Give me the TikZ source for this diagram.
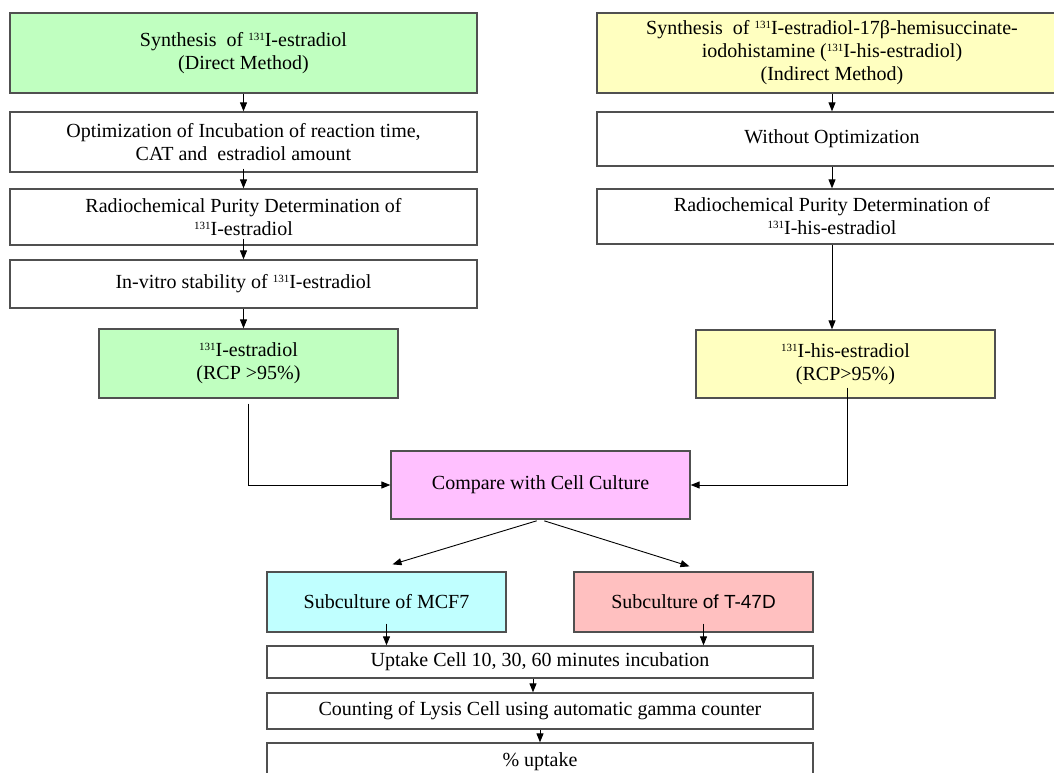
\documentclass[tikz,border=0pt]{standalone}
\usepackage{fontspec}
\setmainfont{Liberation Serif}
\newfontfamily\arialfont{Liberation Sans}
\usepackage{tikz}
\usetikzlibrary{arrows.meta, calc}

\definecolor{boxline}{HTML}{505050}
\definecolor{directgreen}{HTML}{C0FFC0}
\definecolor{indirectyellow}{HTML}{FFFFC0}
\definecolor{comparepink}{HTML}{FFC0FF}
\definecolor{mcfcyan}{HTML}{C0FFFF}
\definecolor{tsalmon}{HTML}{FFC0C0}

\newcommand{\nuc}{\raisebox{6pt}{\fontsize{11}{11}\selectfont 131}}

\begin{document}
\begin{tikzpicture}[
        x=1pt, y=-1pt,
        box/.style={draw=boxline, fill=white, line width=1.3pt, inner sep=0pt,
            align=center, font=\fontsize{20}{23}\selectfont},
        arr/.style={-{Triangle[length=9pt,width=7pt]}, line width=0.9pt}
    ]
        \useasboundingbox (0,0) rectangle (1054,773);
        \clip (0,0) rectangle (1054,773);

        % Direct method (left column)
        \node[box, fill=directgreen, minimum width=467pt, minimum height=80pt] (g1) at (243.5,53)
            {Synthesis\ \ of \nuc I-estradiol\\(Direct Method)};
        \node[box, minimum width=467pt, minimum height=60pt] (o1) at (243.5,142)
            {Optimization of Incubation of reaction time,\\CAT and\ \ estradiol amount};
        \node[box, minimum width=467pt, minimum height=56pt] (r1) at (243.5,217)
            {Radiochemical Purity Determination of\\\nuc I-estradiol};
        \node[box, minimum width=467pt, minimum height=48pt] (s1) at (243.5,284)
            {In-vitro stability of \nuc I-estradiol};
        \node[box, fill=directgreen, minimum width=299pt, minimum height=69pt] (gr) at (248.5,363.5)
            {\nuc I-estradiol\\(RCP >95\%)};

        % Indirect method (right column)
        \node[box, fill=indirectyellow, minimum width=470pt, minimum height=80pt] (y1) at (832,53)
            {Synthesis\ \ of \nuc I-estradiol-17β-hemisuccinate-\\iodohistamine (\nuc I-his-estradiol)\\(Indirect Method)};
        \node[box, minimum width=470pt, minimum height=54pt] (w1) at (832,139)
            {Without Optimization};
        \node[box, minimum width=470pt, minimum height=55pt] (r2) at (832,216.5)
            {Radiochemical Purity Determination of\\\nuc I-his-estradiol};
        \node[box, fill=indirectyellow, minimum width=299pt, minimum height=68pt] (yl) at (845.5,364)
            {\nuc I-his-estradiol\\(RCP>95\%)};

        % Cell culture part
        \node[box, fill=comparepink, minimum width=299pt, minimum height=68pt] (cmp) at (540.5,485)
            {Compare with Cell Culture};
        \node[box, fill=mcfcyan, minimum width=239pt, minimum height=60pt] (cy) at (386.5,602)
            {Subculture of MCF7};
        \node[box, fill=tsalmon, minimum width=239pt, minimum height=60pt] (pk) at (693.5,602)
            {Subculture {\arialfont\fontsize{19}{22}\selectfont of T-47D}};
        \node[box, minimum width=546pt, minimum height=32pt] (up) at (540,662)
            {Uptake Cell 10, 30, 60 minutes incubation};
        \node[box, minimum width=546pt, minimum height=36pt] (ct) at (540,711)
            {Counting of Lysis Cell using automatic gamma counter};
        \node[box, minimum width=546pt, minimum height=38pt] (pc) at (540,762)
            {\% uptake};

        % Arrows
        \draw[arr] (g1.south) -- (o1.north);
        \draw[arr, shorten <=-4pt] (o1.south) -- (r1.north);
        \draw[arr, shorten <=-7pt] (r1.south) -- (s1.north);
        \draw[arr] (s1.south) -- (s1.south |- gr.north);
        \draw[arr, shorten <=5pt] (gr.south) |- (cmp.west);

        \draw[arr] (y1.south) -- (w1.north);
        \draw[arr] (w1.south) -- (r2.north);
        \draw[arr] (r2.south) -- (r2.south |- yl.north);
        \draw[arr, shorten <=-11pt] ([xshift=1.5pt]yl.south) |- (cmp.east);

        \draw[arr, shorten <=4pt] (cmp.south) -- ($(cy.north)+(6,-7)$);
        \draw[arr, shorten <=4pt] (cmp.south) -- ($(pk.north)+(-4,-5)$);
        \draw[arr, shorten <=-9pt] (cy.south) -- (cy.south |- up.north);
        \draw[arr, shorten <=-9pt] ([xshift=10pt]pk.south) -- ([xshift=10pt]pk.south |- up.north);
        \draw[arr] ([xshift=-7pt]up.south) -- ([xshift=-7pt]ct.north);
        \draw[arr] (ct.south) -- (pc.north);
    \end{tikzpicture}
\end{document}
